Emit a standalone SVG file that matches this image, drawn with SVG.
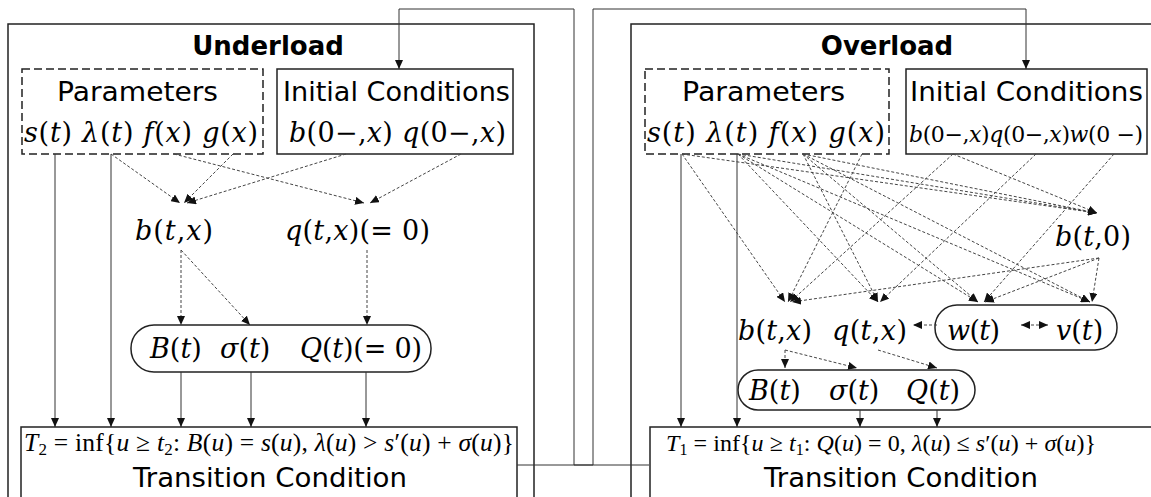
<svg xmlns="http://www.w3.org/2000/svg" width="1151" height="497" viewBox="0 0 1151 497">
<defs>
<marker id="ah" markerUnits="userSpaceOnUse" markerWidth="9" markerHeight="8" refX="9" refY="4" orient="auto"><path d="M0,0 L9,4 L0,8 z" fill="#111"/></marker>
<marker id="as" markerUnits="userSpaceOnUse" markerWidth="9" markerHeight="8" refX="0" refY="4" orient="auto"><path d="M9,0 L0,4 L9,8 z" fill="#111"/></marker>
<style>
.box{fill:none;stroke:#222;stroke-width:1.5}
.dbox{fill:none;stroke:#222;stroke-width:1.5;stroke-dasharray:8,4}
.sol{fill:none;stroke:#333;stroke-width:1;marker-end:url(#ah)}
.dsh{fill:none;stroke:#444;stroke-width:1;stroke-dasharray:3,2;marker-end:url(#ah)}
.ttl{font-family:"DejaVu Sans",Verdana,sans-serif;font-weight:bold;font-size:26px;fill:#000;text-anchor:middle}
.lbl{font-family:"DejaVu Sans",Verdana,sans-serif;font-size:27px;fill:#000}
.m{font-family:"DejaVu Serif","Liberation Serif",serif;font-size:27px;fill:#000}
.f{font-family:"Liberation Serif","Times New Roman",serif;font-size:24px;fill:#000}
.i{font-style:italic}
</style>
</defs>
<g id="underload">
<rect class="box" x="8" y="24" width="526" height="490"/>
<text class="ttl" x="268" y="55">Underload</text>
</g>
<g id="overload">
<rect class="box" x="631" y="24" width="540" height="490"/>
<text class="ttl" x="887" y="55">Overload</text>
</g>
<g id="u-params">
<rect class="dbox" x="22" y="69" width="241" height="85"/>
<text class="lbl" x="57" y="101" textLength="161" lengthAdjust="spacingAndGlyphs">Parameters</text>
<text class="m" x="24" y="142" textLength="234" lengthAdjust="spacing"><tspan class="i">s</tspan>(<tspan class="i">t</tspan>) <tspan class="i">λ</tspan>(<tspan class="i">t</tspan>) <tspan class="i">f</tspan>(<tspan class="i">x</tspan>) <tspan class="i">g</tspan>(<tspan class="i">x</tspan>)</text>
</g>
<g id="u-init">
<rect class="box" x="277" y="69" width="236" height="85"/>
<text class="lbl" x="283" y="101" textLength="227" lengthAdjust="spacingAndGlyphs">Initial Conditions</text>
<text class="m" x="289" y="142" textLength="217" lengthAdjust="spacing"><tspan class="i">b</tspan>(0−,<tspan class="i">x</tspan>) <tspan class="i">q</tspan>(0−,<tspan class="i">x</tspan>)</text>
</g>
<g id="u-bq">
<text class="m" x="135" y="240" textLength="78" lengthAdjust="spacing"><tspan class="i">b</tspan>(<tspan class="i">t</tspan>,<tspan class="i">x</tspan>)</text>
<text class="m" x="285" y="240" textLength="145" lengthAdjust="spacing"><tspan class="i">q</tspan>(<tspan class="i">t</tspan>,<tspan class="i">x</tspan>)(= 0)</text>
</g>
<g id="u-agg">
<rect class="box" x="131" y="325" width="300" height="47" rx="23"/>
<text class="m" x="150" y="358"><tspan class="i">B</tspan>(<tspan class="i">t</tspan>)</text>
<text class="m" x="220" y="358"><tspan class="i">σ</tspan>(<tspan class="i">t</tspan>)</text>
<text class="m" x="300" y="358" textLength="122" lengthAdjust="spacing"><tspan class="i">Q</tspan>(<tspan class="i">t</tspan>)(= 0)</text>
</g>
<g id="u-trans">
<rect class="box" x="21" y="427" width="496" height="90"/>
<text class="f" x="24" y="451" style="font-size:25.5px" textLength="490" lengthAdjust="spacing"><tspan class="i">T</tspan><tspan font-size="17" dy="4">2</tspan><tspan dy="-4"> = inf{</tspan><tspan class="i">u</tspan> ≥ <tspan class="i">t</tspan><tspan font-size="17" dy="4">2</tspan><tspan dy="-4">: </tspan><tspan class="i">B</tspan>(<tspan class="i">u</tspan>) = <tspan class="i">s</tspan>(<tspan class="i">u</tspan>), <tspan class="i">λ</tspan>(<tspan class="i">u</tspan>) &gt; <tspan class="i">s</tspan>′(<tspan class="i">u</tspan>) + <tspan class="i">σ</tspan>(<tspan class="i">u</tspan>)}</text>
<text class="lbl" x="133" y="487" textLength="274" lengthAdjust="spacingAndGlyphs">Transition Condition</text>
</g>
<g id="o-params">
<rect class="dbox" x="645" y="69" width="244" height="85"/>
<text class="lbl" x="682" y="101" textLength="163" lengthAdjust="spacingAndGlyphs">Parameters</text>
<text class="m" x="647" y="142" textLength="238" lengthAdjust="spacing"><tspan class="i">s</tspan>(<tspan class="i">t</tspan>) <tspan class="i">λ</tspan>(<tspan class="i">t</tspan>) <tspan class="i">f</tspan>(<tspan class="i">x</tspan>) <tspan class="i">g</tspan>(<tspan class="i">x</tspan>)</text>
</g>
<g id="o-init">
<rect class="box" x="906" y="69" width="241" height="85"/>
<text class="lbl" x="910" y="101" textLength="233" lengthAdjust="spacingAndGlyphs">Initial Conditions</text>
<text class="m" x="909" y="142" style="font-size:22px" textLength="234" lengthAdjust="spacing"><tspan class="i">b</tspan>(0−,<tspan class="i">x</tspan>)<tspan class="i">q</tspan>(0−,<tspan class="i">x</tspan>)<tspan class="i">w</tspan>(0 −)</text>
</g>
<g id="o-b0">
<text class="m" x="1055" y="246" textLength="76" lengthAdjust="spacing"><tspan class="i">b</tspan>(<tspan class="i">t</tspan>,0)</text>
</g>
<g id="o-bq">
<text class="m" x="738" y="340" textLength="74" lengthAdjust="spacing"><tspan class="i">b</tspan>(<tspan class="i">t</tspan>,<tspan class="i">x</tspan>)</text>
<text class="m" x="832" y="340" textLength="75" lengthAdjust="spacing"><tspan class="i">q</tspan>(<tspan class="i">t</tspan>,<tspan class="i">x</tspan>)</text>
</g>
<g id="o-wv">
<rect class="box" x="935" y="305" width="182" height="45" rx="22"/>
<text class="m" x="947" y="340" textLength="53" lengthAdjust="spacing"><tspan class="i">w</tspan>(<tspan class="i">t</tspan>)</text>
<text class="m" x="1056" y="340"><tspan class="i">v</tspan>(<tspan class="i">t</tspan>)</text>
</g>
<g id="o-agg">
<rect class="box" x="738" y="370" width="237" height="40" rx="20"/>
<text class="m" x="749" y="400"><tspan class="i">B</tspan>(<tspan class="i">t</tspan>)</text>
<text class="m" x="829" y="400"><tspan class="i">σ</tspan>(<tspan class="i">t</tspan>)</text>
<text class="m" x="906" y="400"><tspan class="i">Q</tspan>(<tspan class="i">t</tspan>)</text>
</g>
<g id="o-trans">
<rect class="box" x="650" y="427" width="520" height="90"/>
<text class="f" x="666" y="451" style="font-size:24px" textLength="430" lengthAdjust="spacing"><tspan class="i">T</tspan><tspan font-size="16" dy="4">1</tspan><tspan dy="-4"> = inf{</tspan><tspan class="i">u</tspan> ≥ <tspan class="i">t</tspan><tspan font-size="16" dy="4">1</tspan><tspan dy="-4">: </tspan><tspan class="i">Q</tspan>(<tspan class="i">u</tspan>) = 0, <tspan class="i">λ</tspan>(<tspan class="i">u</tspan>) ≤ <tspan class="i">s</tspan>′(<tspan class="i">u</tspan>) + <tspan class="i">σ</tspan>(<tspan class="i">u</tspan>)}</text>
<text class="lbl" x="764" y="487" textLength="274" lengthAdjust="spacingAndGlyphs">Transition Condition</text>
</g>
<g id="connectors">
<polyline class="sol" points="649,465 574,465 574,9 399,9 399,69"/>
<polyline class="sol" points="517,465 593,465 593,9 1026,9 1026,69"/>
<line class="dsh" x1="111" y1="154" x2="180" y2="203"/>
<line class="dsh" x1="233" y1="154" x2="184" y2="203"/>
<line class="dsh" x1="346" y1="154" x2="187" y2="203"/>
<line class="dsh" x1="174" y1="154" x2="364" y2="203"/>
<line class="dsh" x1="461" y1="154" x2="370" y2="203"/>
<line class="dsh" x1="181" y1="250" x2="181" y2="325"/>
<line class="dsh" x1="181" y1="250" x2="250" y2="325"/>
<line class="dsh" x1="367" y1="250" x2="367" y2="325"/>
<line class="sol" x1="55" y1="154" x2="55" y2="427"/>
<line class="sol" x1="111" y1="154" x2="111" y2="427"/>
<line class="sol" x1="181" y1="372" x2="181" y2="427"/>
<line class="sol" x1="251" y1="372" x2="251" y2="427"/>
<line class="sol" x1="366" y1="372" x2="366" y2="427"/>
<line class="sol" x1="681" y1="154" x2="681" y2="427"/>
<line class="sol" x1="737" y1="154" x2="737" y2="427"/>
<line class="sol" x1="860" y1="410" x2="860" y2="427"/>
<line class="sol" x1="937" y1="410" x2="937" y2="427"/>
<line class="dsh" x1="682" y1="154" x2="785" y2="302"/>
<line class="dsh" x1="682" y1="154" x2="1097" y2="213"/>
<line class="dsh" x1="738" y1="154" x2="878" y2="302"/>
<line class="dsh" x1="738" y1="154" x2="1097" y2="213"/>
<line class="dsh" x1="738" y1="154" x2="978" y2="302"/>
<line class="dsh" x1="738" y1="154" x2="1090" y2="302"/>
<line class="dsh" x1="803" y1="154" x2="878" y2="302"/>
<line class="dsh" x1="803" y1="154" x2="1097" y2="213"/>
<line class="dsh" x1="803" y1="154" x2="978" y2="302"/>
<line class="dsh" x1="803" y1="154" x2="1090" y2="302"/>
<line class="dsh" x1="862" y1="154" x2="788" y2="302"/>
<line class="dsh" x1="953" y1="154" x2="790" y2="302"/>
<line class="dsh" x1="953" y1="154" x2="1097" y2="213"/>
<line class="dsh" x1="1036" y1="154" x2="880" y2="302"/>
<line class="dsh" x1="1114" y1="154" x2="984" y2="302"/>
<line class="dsh" x1="1099" y1="258" x2="792" y2="302"/>
<line class="dsh" x1="1099" y1="258" x2="985" y2="302"/>
<line class="dsh" x1="1099" y1="258" x2="1092" y2="302"/>
<line class="dsh" x1="785" y1="350" x2="785" y2="368"/>
<line class="dsh" x1="785" y1="350" x2="857" y2="368"/>
<line class="dsh" x1="878" y1="350" x2="937" y2="368"/>
<line class="dsh" x1="937" y1="325" x2="913" y2="325"/>
<line class="dsh" x1="1021" y1="325" x2="1048" y2="325" style="marker-start:url(#as)"/>
</g>
</svg>
